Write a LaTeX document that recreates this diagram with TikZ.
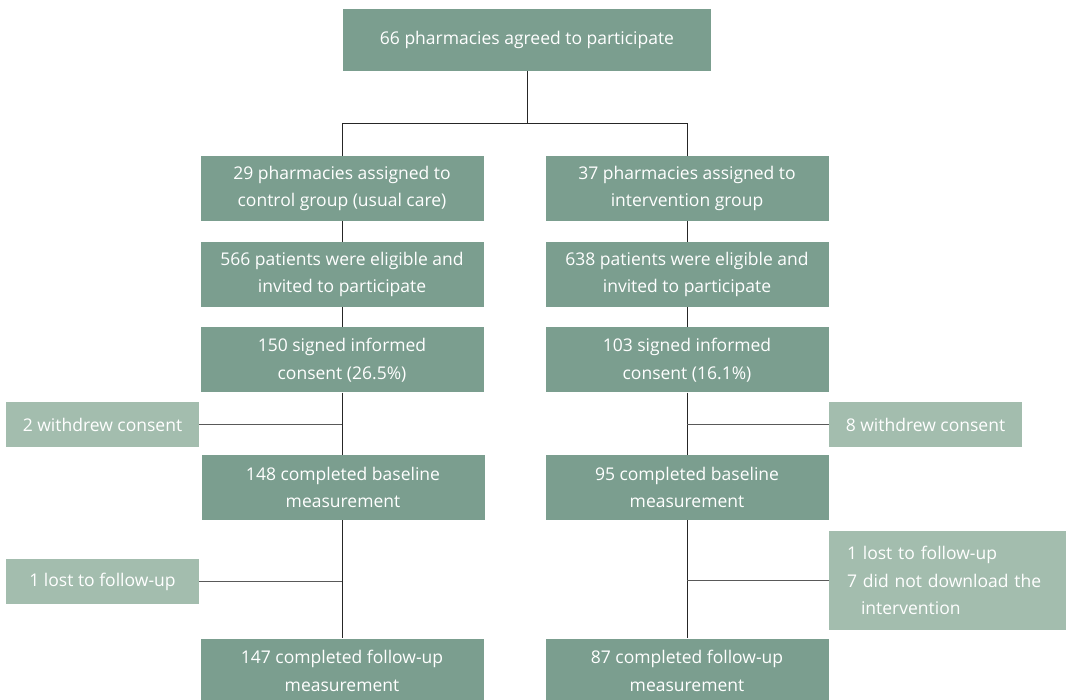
\documentclass[tikz,border=0pt]{standalone}
\usepackage{fontspec}
\setmainfont{Open Sans}
\definecolor{flow_dark}{RGB}{123, 158, 143}
\definecolor{flow_light}{RGB}{163, 189, 174}
\usepackage{tikz}
\usetikzlibrary{positioning, calc}

\begin{document}
\begin{tikzpicture}[x=1pt, y=-1pt,
            font=\fontsize{17.5}{27.5}\selectfont,
            blk/.style={fill=flow_dark, text=white, align=center, inner sep=0pt,
                        minimum width=283pt, minimum height=65pt},
            side/.style={fill=flow_light, text=white, align=center, inner sep=0pt,
                        minimum width=193pt, minimum height=45pt},
            lnk/.style={draw=black!85, line width=1pt}]
            \clip (0,0) rectangle (1066,700);
            \fill[white] (0,0) rectangle (1066,700);
            % top
            \node[blk, minimum width=368pt, minimum height=62pt] (top)
              at (527,40) {66 pharmacies agreed to participate};
            % control arm
            \node[blk] (c1) at (342,188.5) {29 pharmacies assigned to\\control group (usual care)};
            \node[blk] (c2) at (342,274.5) {566 patients were eligible and\\invited to participate};
            \node[blk] (c3) at (342,360) {150 signed informed\\consent (26.5\%)};
            \node[blk] (c4) at (343,487.5) {148 completed baseline\\measurement};
            \node[blk] (c5) at (342,671) {147 completed follow-up\\measurement};
            % intervention arm
            \node[blk] (i1) at (687,188.5) {37 pharmacies assigned to\\intervention group};
            \node[blk] (i2) at (687,274.5) {638 patients were eligible and\\invited to participate};
            \node[blk] (i3) at (687,360) {103 signed informed\\consent (16.1\%)};
            \node[blk] (i4) at (687,487.5) {95 completed baseline\\measurement};
            \node[blk] (i5) at (687,671) {87 completed follow-up\\measurement};
            % exclusions
            \node[side] (cw) at (102.5,424.5) {2 withdrew consent};
            \node[side] (cl) at (102.5,581.5) {1 lost to follow-up};
            \node[side] (iw) at (925.5,424.5) {8 withdrew consent};
            \node[side, minimum height=99pt, align=left, inner xsep=18pt,
                  text width=201pt] (il)
              at (947.5,580.5) {1 lost to follow-up\\7 did not download the\\\hspace*{0.8em}intervention};
            % connectors
            \coordinate (split) at ($(top.south)+(0,52)$);
            \draw[lnk] (top.south) -- (split);
            \draw[lnk] (split) -| (c1.north);
            \draw[lnk] (split) -| (i1.north);
            \foreach \a/\b in {c1/c2, c2/c3, i1/i2, i2/i3, i3/i4, i4/i5}
              \draw[lnk] (\a.south) -- (\b.north);
            \draw[lnk] (c3.south) -- (c3.south |- c4.north);
            \draw[lnk] (c3.south |- c4.south) -- (c3.south |- c5.north);
            \draw[lnk, draw=black!65] (cw.east) -- (cw.east -| c3.south);
            \draw[lnk, draw=black!65] (cl.east) -- (cl.east -| c3.south);
            \draw[lnk, draw=black!65] (iw.west) -- (iw.west -| i3.south);
            \draw[lnk, draw=black!65] (il.west) -- (il.west -| i3.south);
          \end{tikzpicture}
\end{document}
